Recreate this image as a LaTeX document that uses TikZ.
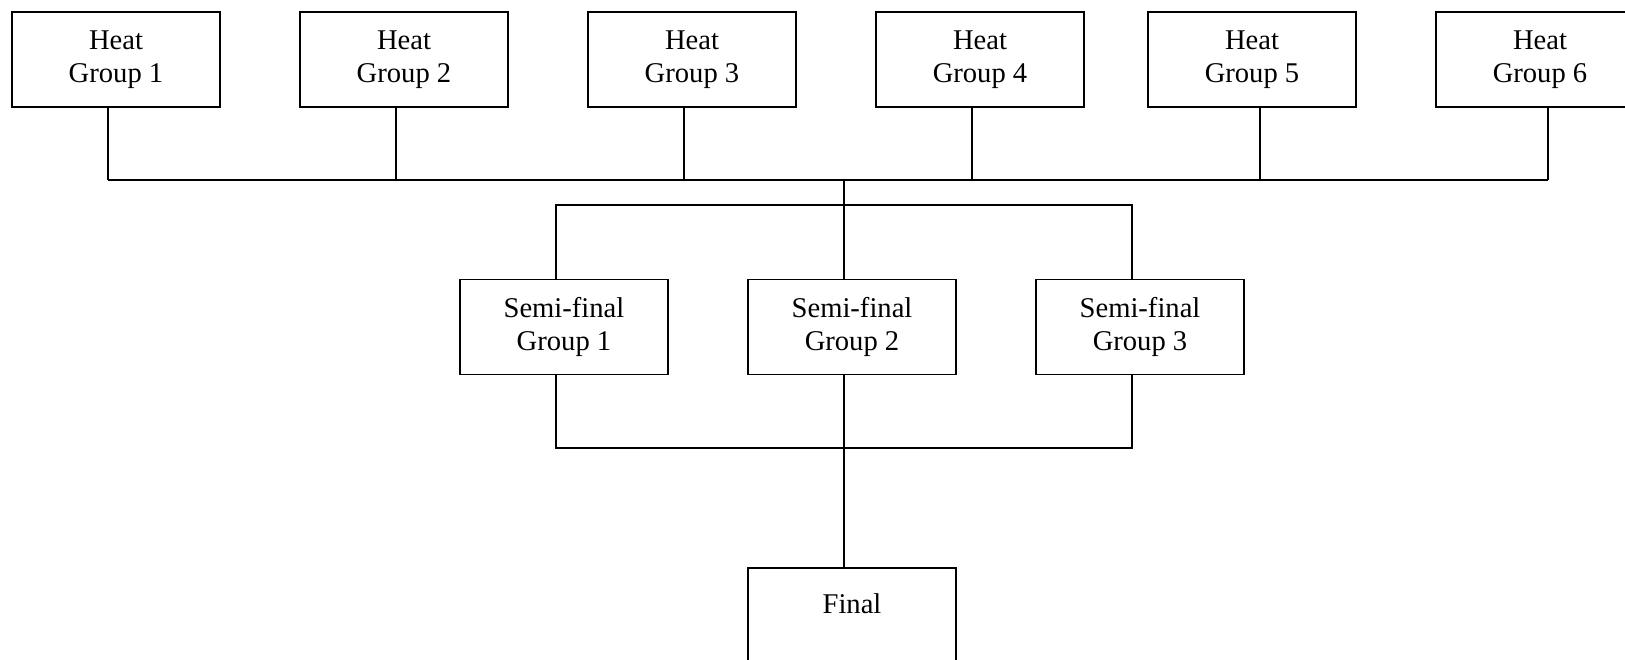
\documentclass[tikz,border=0pt]{standalone}
\usepackage{fontspec}
\setmainfont{Liberation Serif}
\tikzset{
  grp/.style={draw, line width=0.8pt, minimum width=104pt, minimum height=47.5pt,
    inner sep=0pt, align=center, font=\fontsize{14.3}{16.5}\selectfont},
  link/.style={line width=0.8pt}
}

\begin{document}
\begin{tikzpicture}[x=0.5pt, y=-0.5pt]
    \useasboundingbox (0,0) rectangle (1625,659);
    % heats
    \foreach \i/\x/\c in {1/116/108, 2/404/396, 3/692/684, 4/980/972, 5/1252/1260, 6/1540/1548}{
      \node[grp] (h\i) at (\x,59.5) {Heat\\Group \i};
      \coordinate (t\i) at (\c,180);
      \draw[link] (h\i.south -| t\i) -- (t\i);
    }
    \draw[link] (t1) -- (t6);
    % semi-finals
    \foreach \i/\x/\c in {1/564/556, 2/852/844, 3/1140/1132}{
      \node[grp] (s\i) at (\x,327) {Semi-final\\Group \i};
      \coordinate (m\i) at (\c,205);
      \coordinate (b\i) at (\c,448);
    }
    \node[grp, minimum height=55pt] (fin) at (852,623) {Final\\\phantom{Group}};
    \coordinate (top) at (844,180);
    \draw[link] (top) -- (s2.north -| top);
    \draw[link] (s1.north -| m1) -- (m1) -- (m3) -- (s3.north -| m3);
    \draw[link] (s1.south -| b1) -- (b1) -- (b3) -- (s3.south -| b3);
    \draw[link] (s2.south -| b2) -- (fin.north -| b2);
\end{tikzpicture}
\end{document}
